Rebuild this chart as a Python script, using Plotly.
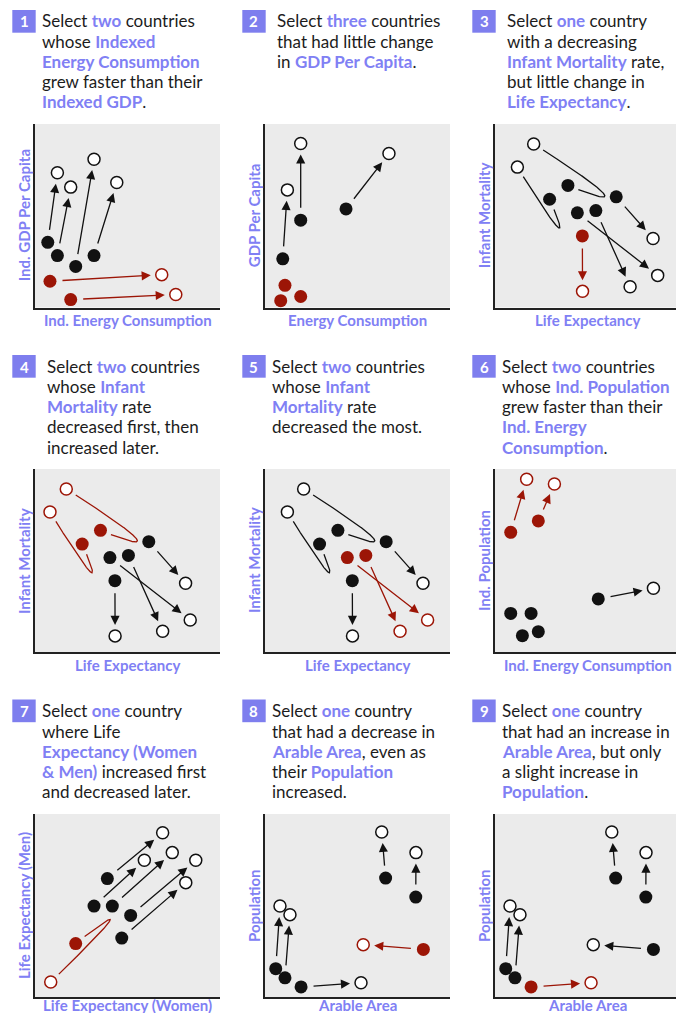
import re
import numpy as np
import plotly.graph_objects as go

W, H = 676, 1013
BLACK = "#111111"
RED = "#9c1506"
KEY = "#8080f4"
BADGE = "#7e7eee"
BG = "#ebebeb"
FONT = "Lato"

# ---------------- data (normalised 0-100 axis units) ----------------
# Panel 1: Ind. Energy Consumption (x) vs Ind. GDP Per Capita (y)
p1_start_x = [6.9, 12.1, 22.0, 31.9, 8.1, 19.3]
p1_start_y = [35.5, 28.3, 22.4, 28.3, 14.3, 4.3]
p1_end_x = [12.1, 19.3, 31.9, 44.2, 68.5, 76.1]
p1_end_y = [73.4, 65.6, 80.8, 68.1, 17.9, 7.1]
p1_red = [0, 0, 0, 0, 1, 1]

# Panel 2: Energy Consumption (x) vs GDP Per Capita (y)
p2_start_x = [9.6, 19.3, 43.8, 10.8, 8.5, 19.3]
p2_start_y = [26.5, 47.6, 53.7, 12.1, 3.7, 6.0]
p2_end_x = [12.1, 19.3, 67.0, None, None, None]
p2_end_y = [64.1, 89.4, 83.9, None, None, None]
p2_red = [0, 0, 0, 1, 1, 1]

# Panels 3-5: Life Expectancy (x) vs Infant Mortality (y)
le_start_x = [39.4, 29.5, 44.5, 54.5, 65.5, 47.2]
le_start_y = [66.5, 59.0, 51.6, 52.8, 60.3, 39.0]
le_mid_x = [58.6, 33.6, None, None, None, None]
le_mid_y = [62.2, 44.1, None, None, None, None]
le_end_x = [20.9, 12.1, 87.9, 73.0, 85.4, 47.3]
le_end_y = [89.1, 76.5, 17.5, 11.3, 37.6, 8.8]
p3_red = [0, 0, 0, 0, 0, 1]
p4_red = [1, 1, 0, 0, 0, 0]
p5_red = [0, 0, 1, 1, 0, 0]

# Panel 6: Ind. Energy Consumption (x) vs Ind. Population (y)
p6_start_x = [8.5, 23.4, 8.5, 19.5, 14.8, 23.4, 55.8]
p6_start_y = [65.4, 71.6, 21.1, 21.1, 8.9, 11.1, 29.0]
p6_end_x = [17.1, 32.1, None, None, None, None, 85.6]
p6_end_y = [94.4, 91.8, None, None, None, None, 34.8]
p6_red = [1, 1, 0, 0, 0, 0, 0]

# Panel 7: Life Expectancy (Women) (x) vs Life Expectancy (Men) (y)
p7_start_x = [39.1, 31.9, 41.8, 51.7, 46.9, 22.0]
p7_start_y = [64.7, 49.7, 49.7, 44.6, 32.2, 29.2]
p7_mid_x = [None, None, None, None, None, 40.2]
p7_mid_y = [None, None, None, None, None, 41.2]
p7_end_x = [69.0, 59.1, 74.2, 86.9, 81.5, 8.5]
p7_end_y = [89.8, 74.7, 78.9, 74.7, 62.5, 8.2]
p7_red = [0, 0, 0, 0, 0, 1]

# Panels 8-9: Arable Area (x) vs Population (y)
ar_start_x = [65.2, 81.5, 5.8, 10.8, 19.5, 85.6]
ar_start_y = [65.0, 54.6, 15.5, 10.5, 5.5, 26.0]
ar_end_x = [63.1, 81.6, 8.1, 13.5, 51.9, 53.1]
ar_end_y = [90.2, 78.9, 49.7, 45.0, 7.8, 28.6]
p8_red = [0, 0, 0, 0, 0, 1]
p9_red = [0, 0, 0, 0, 1, 0]

# ---------------- texts ({...} = highlighted keyword) ----------------
titles = [
    ["Select {two} countries", "whose {Indexed}", "{Energy Consumption}",
     "grew faster than their", "{Indexed GDP}."],
    ["Select {three} countries", "that had little change", "in {GDP Per Capita}."],
    ["Select {one} country", "with a decreasing", "{Infant Mortality} rate,",
     "but little change in", "{Life Expectancy}."],
    ["Select {two} countries", "whose {Infant}", "{Mortality} rate",
     "decreased first, then", "increased later."],
    ["Select {two} countries", "whose {Infant}", "{Mortality} rate", "decreased the most."],
    ["Select {two} countries", "whose {Ind. Population}", "grew faster than their",
     "{Ind. Energy}", "{Consumption}."],
    ["Select {one} country", "where Life", "{Expectancy (Women}",
     "{&amp; Men)} increased first", "and decreased later."],
    ["Select {one} country", "that had a decrease in", "{Arable Area}, even as",
     "their {Population}", "increased."],
    ["Select {one} country", "that had an increase in", "{Arable Area}, but only",
     "a slight increase in", "{Population}."],
]
x_titles = ["Ind. Energy Consumption", "Energy Consumption", "Life Expectancy",
            "Life Expectancy", "Life Expectancy", "Ind. Energy Consumption",
            "Life Expectancy (Women)", "Arable Area", "Arable Area"]
y_titles = ["Ind. GDP Per Capita", "GDP Per Capita", "Infant Mortality",
            "Infant Mortality", "Infant Mortality", "Ind. Population",
            "Life Expectancy (Men)", "Population", "Population"]

panels = [
    (p1_start_x, p1_start_y, None, None, p1_end_x, p1_end_y, p1_red),
    (p2_start_x, p2_start_y, None, None, p2_end_x, p2_end_y, p2_red),
    (le_start_x, le_start_y, le_mid_x, le_mid_y, le_end_x, le_end_y, p3_red),
    (le_start_x, le_start_y, le_mid_x, le_mid_y, le_end_x, le_end_y, p4_red),
    (le_start_x, le_start_y, le_mid_x, le_mid_y, le_end_x, le_end_y, p5_red),
    (p6_start_x, p6_start_y, None, None, p6_end_x, p6_end_y, p6_red),
    (p7_start_x, p7_start_y, p7_mid_x, p7_mid_y, p7_end_x, p7_end_y, p7_red),
    (ar_start_x, ar_start_y, None, None, ar_end_x, ar_end_y, p8_red),
    (ar_start_x, ar_start_y, None, None, ar_end_x, ar_end_y, p9_red),
]

# ---------------- layout geometry (pixels) ----------------
col_left = [35, 265, 495]
col_right = [220, 450, 676]
row_top = [124, 469, 814]
row_bottom = [307.5, 652, 997]
x_ranges = [[0, 100], [0, 100], [0, 97.8], [4, 104], [0, 100], [0, 97.8],
            [0, 100], [0, 100], [0, 97.8]]
title_x = [40.7, 275.7, 505.7, 45.7, 270.7, 500.7, 40.7, 270.7, 500.7]
title_line1 = [20.7, 366, 710.7]
LINE_H = 20.3
badge_y = [10, 355, 699.5]
badge_x = [12.3, 242.3, 472.3]
xtitle_y = [320, 665, 1005]
SX, SY = 1.85, 1.83  # px per axis unit


def px(v):
    return v / W


def py(v):
    return 1 - v / H


def markup(s):
    return re.sub(r"\{([^}]*)\}", lambda m: f"<span style='color:{KEY}'><b>{m.group(1)}</b></span>", s)


def bezier(p0, m, p2, gap0=11, gap1=11):
    P0, M, P2 = np.array(p0), np.array(m), np.array(p2)
    P1 = 2 * M - 0.5 * (P0 + P2)
    t = np.linspace(0, 1, 500)[:, None]
    pts = (1 - t) ** 2 * P0 + 2 * (1 - t) * t * P1 + t ** 2 * P2
    pix = pts * np.array([SX, SY])
    seg = np.sqrt(((pix[1:] - pix[:-1]) ** 2).sum(1))
    s = np.concatenate([[0], np.cumsum(seg)])
    keep = (s >= gap0) & (s <= s[-1] - gap1)
    return pts[keep]


fig = go.Figure()
annotations = []
shapes = []
layout_axes = {}

for i, (sx, sy, mx, my, ex, ey, red) in enumerate(panels):
    n = i + 1
    r, c = divmod(i, 3)
    xa = "x" if n == 1 else f"x{n}"
    ya = "y" if n == 1 else f"y{n}"
    cols = [RED if f else BLACK for f in red]

    layout_axes["xaxis" if n == 1 else f"xaxis{n}"] = dict(
        domain=[px(col_left[c]), min(1.0, px(col_right[c]))], range=x_ranges[i], anchor=ya,
        showgrid=False, zeroline=False, showticklabels=False, ticks="",
        showline=True, linecolor="#222222", linewidth=2, fixedrange=True)
    layout_axes["yaxis" if n == 1 else f"yaxis{n}"] = dict(
        domain=[py(row_bottom[r]), py(row_top[r])], range=[0, 100], anchor=xa,
        showgrid=False, zeroline=False, showticklabels=False, ticks="",
        showline=True, linecolor="#222222", linewidth=2, fixedrange=True)

    # connections
    for j in range(len(sx)):
        if ex[j] is None:
            continue
        if mx is not None and mx[j] is not None:
            pts = bezier((sx[j], sy[j]), (mx[j], my[j]), (ex[j], ey[j]))
            fig.add_trace(go.Scatter(x=pts[:, 0], y=pts[:, 1], mode="lines", xaxis=xa, yaxis=ya,
                                     line=dict(color=cols[j], width=1.3), hoverinfo="skip",
                                     showlegend=False))
            annotations.append(dict(x=pts[-1, 0], y=pts[-1, 1], ax=pts[-8, 0], ay=pts[-8, 1],
                                    xref=xa, yref=ya, axref=xa, ayref=ya, text="", showarrow=True,
                                    arrowhead=2, arrowsize=1.4, arrowwidth=1.3,
                                    arrowcolor=cols[j], standoff=0))
        else:
            annotations.append(dict(x=ex[j], y=ey[j], ax=sx[j], ay=sy[j],
                                    xref=xa, yref=ya, axref=xa, ayref=ya, text="", showarrow=True,
                                    arrowhead=2, arrowsize=1.4, arrowwidth=1.3,
                                    arrowcolor=cols[j], standoff=11, startstandoff=11))

    # end (open) markers
    idx = [j for j in range(len(ex)) if ex[j] is not None]
    fig.add_trace(go.Scatter(x=[ex[j] for j in idx], y=[ey[j] for j in idx], mode="markers",
                             xaxis=xa, yaxis=ya, hoverinfo="skip", showlegend=False,
                             cliponaxis=False,
                             marker=dict(size=12, color="white",
                                         line=dict(color=[cols[j] for j in idx], width=1.5))))
    # start (filled) markers
    fig.add_trace(go.Scatter(x=sx, y=sy, mode="markers", xaxis=xa, yaxis=ya, hoverinfo="skip",
                             showlegend=False, cliponaxis=False,
                             marker=dict(size=13, color=cols, line=dict(width=0))))

    # badge
    shapes.append(dict(type="rect", xref="paper", yref="paper",
                       x0=px(badge_x[c]), x1=px(badge_x[c] + 23.4),
                       y0=py(badge_y[r] + 22.7), y1=py(badge_y[r]),
                       fillcolor=BADGE, line=dict(width=0), layer="above"))
    annotations.append(dict(x=px(badge_x[c] + 11.7), y=py(badge_y[r] + 11.5), xref="paper",
                            yref="paper", text=f"<b>{n}</b>", showarrow=False,
                            xanchor="center", yanchor="middle",
                            font=dict(family=FONT, size=15, color="white")))
    # title, one annotation per line for exact line spacing
    for li, line in enumerate(titles[i]):
        annotations.append(dict(x=px(title_x[i] - 1), y=py(title_line1[r] + li * LINE_H),
                                xref="paper", yref="paper", text=markup(line), showarrow=False,
                                xanchor="left", yanchor="middle", align="left",
                                font=dict(family=FONT, size=17, color="#1c1c1c")))
    # axis titles
    cx = (col_left[c] + col_left[c] + 185) / 2
    annotations.append(dict(x=px(cx), y=py(xtitle_y[r]), xref="paper", yref="paper",
                            text=f"<b>{x_titles[i]}</b>", showarrow=False,
                            xanchor="center", yanchor="middle",
                            font=dict(family=FONT, size=15, color=KEY)))
    cy = (row_top[r] + row_bottom[r]) / 2
    annotations.append(dict(x=px(col_left[c] - 11.5), y=py(cy), xref="paper", yref="paper",
                            text=f"<b>{y_titles[i]}</b>", showarrow=False, textangle=-90,
                            xanchor="center", yanchor="middle",
                            font=dict(family=FONT, size=15, color=KEY)))

fig.update_layout(
    width=W, height=H, margin=dict(l=0, r=0, t=0, b=0),
    paper_bgcolor="white", plot_bgcolor=BG,
    annotations=annotations, shapes=shapes, showlegend=False,
    **layout_axes,
)

fig.write_html("out.html",
               config={"displayModeBar": False, "staticPlot": True},
               post_script="document.body.style.margin='0';document.body.style.padding='0';"
                           "document.body.style.overflow='hidden';")
